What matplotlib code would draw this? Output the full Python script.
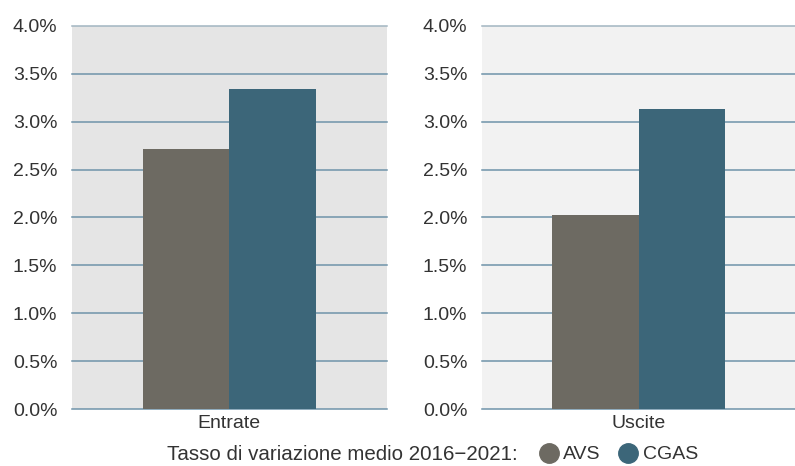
import numpy as np
import matplotlib.pyplot as plt
from matplotlib.lines import Line2D
from matplotlib.ticker import FuncFormatter

plt.rcParams['font.family'] = ['Liberation Sans', 'DejaVu Sans']

categories = ['Entrate', 'Uscite']
series = ['AVS', 'CGAS']
avs = [2.71, 2.03]
cgas = [3.34, 3.13]
yticks = [0.0, 0.5, 1.0, 1.5, 2.0, 2.5, 3.0, 3.5, 4.0]
legend_title = 'Tasso di variazione medio 2016\u22122021:'

colors = {'AVS': '#6d6a62', 'CGAS': '#3c6679'}
bgs = ['#e5e5e5', '#f2f2f2']
grid_col = '#6f93a9'
text_col = '#333333'

fig = plt.figure(figsize=(7.95, 4.66), dpi=100)
positions = [[0.0906, 0.1223, 0.396, 0.822], [0.6063, 0.1223, 0.394, 0.822]]

w = 0.276
for i, cat in enumerate(categories):
    ax = fig.add_axes(positions[i])
    ax.set_facecolor(bgs[i])
    ax.bar([-w / 2], [avs[i]], width=w, color=colors['AVS'], zorder=3)
    ax.bar([w / 2], [cgas[i]], width=w, color=colors['CGAS'], zorder=3)
    ax.set_xlim(-0.5, 0.5)
    ax.set_ylim(0, 4.0)
    ax.set_yticks(yticks)
    ax.yaxis.set_major_formatter(FuncFormatter(lambda v, p: f'{v:.1f}%'))
    ax.set_xticks([0])
    ax.set_xticklabels([cat])
    for s in ax.spines.values():
        s.set_visible(False)
    ax.tick_params(axis='both', length=0, labelsize=14, colors=text_col)
    ax.tick_params(axis='y', pad=10.5)
    ax.tick_params(axis='x', pad=4)
    for y in yticks:
        c = '#a2b5c1' if y == 4.0 else grid_col
        ax.axhline(y, color=c, lw=1.1, zorder=1, clip_on=False)

fig.text(0.43, 0.0245, legend_title, ha='center', va='center', fontsize=14.8, color=text_col)
handles = [Line2D([], [], marker='o', linestyle='none', markersize=14,
                  color=colors[s], label=s) for s in series]
fig.legend(handles=handles, loc='center left', bbox_to_anchor=(0.678, 0.0245), ncol=2,
           frameon=False, fontsize=14, handletextpad=0.25, columnspacing=0.9,
           handlelength=1.0, borderpad=0, borderaxespad=0, labelcolor=text_col)

fig.savefig('out.png', dpi=100)
